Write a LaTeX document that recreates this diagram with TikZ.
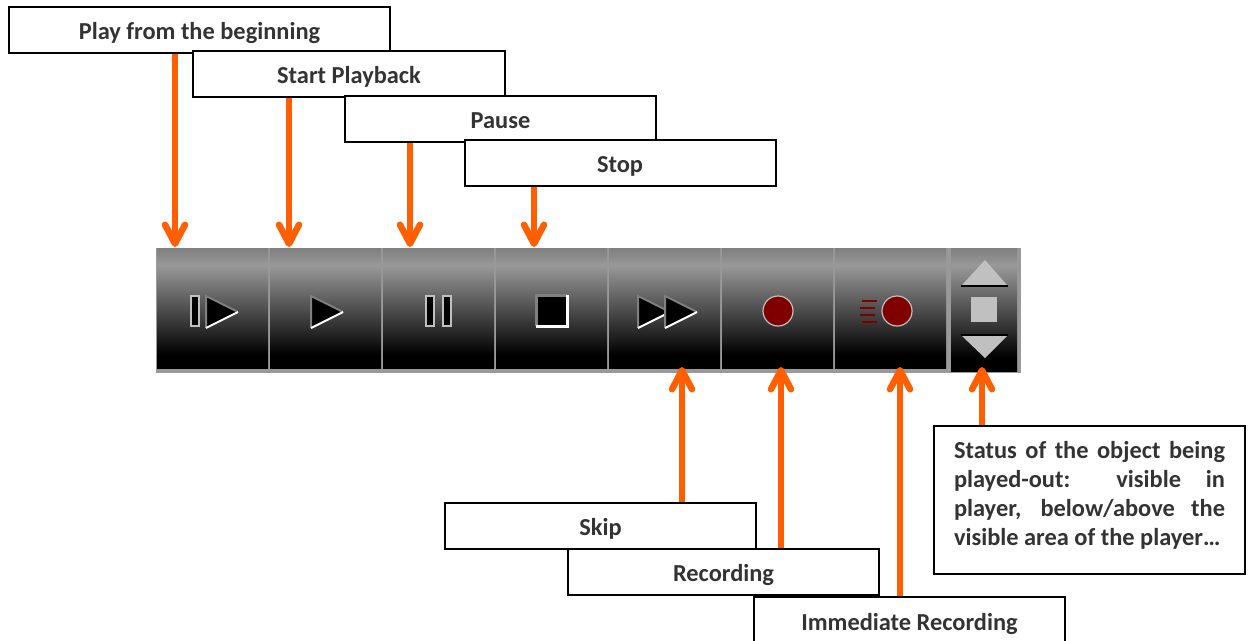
\documentclass[tikz,border=0pt]{standalone}
\usepackage{fontspec}
\setmainfont{Carlito}
\usetikzlibrary{
  positioning,
  arrows.meta
}
\definecolor{barorange}{HTML}{FF5F00}
\definecolor{recred}{HTML}{800000}
\definecolor{boxtext}{HTML}{333333}
\definecolor{iconfill}{HTML}{C0C0C0}
\pgfdeclareverticalshading{btnshade}{100bp}{
  color(0bp)=(black);
  color(30.4bp)=(black);
  color(62.9bp)=(black!48);
  color(67.9bp)=(black!40);
  color(72.5bp)=(black!47);
  color(75bp)=(black!50);
  color(100bp)=(black!50)
}
% one triangle of the play icons, #1 = left edge
\newcommand{\playtri}[1]{
  \fill (#1,296) -- (#1+32,312) -- (#1,328) -- cycle;
  \draw[gray, line width=2pt] (#1,328) -- (#1,296) -- (#1+32,312);
  \draw[white, line width=2pt] (#1,328) -- (#1+32,312);
}
\begin{document}
\begin{tikzpicture}[
  x=1pt, y=-1pt,
  node distance=2pt,
  every node/.style={font=\fontsize{24.4}{29}\selectfont\bfseries, text=boxtext},
  label/.style={draw=black, fill=white, line width=2pt, minimum width=311pt, minimum height=46pt, inner sep=0pt, text height=19pt, text depth=0pt},
  notebox/.style={draw=black, fill=white, line width=2pt, text width=271pt, minimum width=311pt, minimum height=148pt, inner xsep=20pt, inner ysep=0pt, align=justify},
  button/.style={shading=btnshade, minimum width=111pt, minimum height=120pt, inner sep=0pt, outer sep=0pt},
  arrow/.style={draw=barorange, line width=6pt, -{Straight Barb[length=19pt, width=20pt, line width=6.5pt, round]}},
  bar/.style={fill=black, draw=iconfill, line width=2.4pt},
  recline/.style={draw=recred, line width=1.8pt}
]
\useasboundingbox (0,0) rectangle (1250,640);

% Toolbar
\fill[black!40] (156,248) rectangle (1021,373);
\node[button] (btnfirst) at (212.5,308) {};
\node[button, right=of btnfirst] (btnplay) {};
\node[button, right=of btnplay] (btnpause) {};
\node[button, right=of btnpause] (btnstop) {};
\node[button, right=of btnstop] (btnskip) {};
\node[button, right=of btnskip] (btnrec) {};
\node[button, right=of btnrec] (btnimm) {};
\node[button, minimum width=66pt, minimum height=123pt] (btnstatus) at (984,309.5) {};

% Icons
\draw[bar] (191,296) rectangle (199,326);
\playtri{206}
\playtri{311}
\draw[bar] (426,296) rectangle (434,326);
\draw[bar] (443,296) rectangle (451,326);
\fill (536,295) rectangle (567,326);
\draw[gray, line width=3pt] (536,326) -- (536,295) -- (567,295);
\draw[white, line width=3pt] (536,326) -- (567,326) -- (567,295);
\playtri{638}
\playtri{665}
\draw[fill=recred, draw=iconfill, line width=1.2pt] (778,311) circle (15);
\draw[fill=recred, draw=iconfill, line width=1.2pt] (897,311) circle (15);
\draw[recline] (862,301) -- (877,301);
\draw[recline] (860,308) -- (875,308);
\draw[recline] (860,315) -- (875,315);
\draw[recline] (862,322) -- (877,322);
\fill[iconfill] (985,260) -- (1007,285) -- (962,285) -- cycle;
\draw[black, line width=1.5pt] (961,286) -- (1008,286);
\fill[iconfill] (971,297) rectangle (997,322);
\fill[iconfill] (985,358) -- (1007,336) -- (962,336) -- cycle;
\draw[black, line width=1.5pt] (961,335) -- (1008,335);

% Labels
\node[label, minimum width=381pt] (boxbegin) at (199.5,30) {Play from the beginning};
\node[label, minimum width=312pt] (boxstart) at (349,74) {Start Playback};
\node[label] (boxpause) at (500.5,119) {Pause};
\node[label] (boxstop) at (620,163) {Stop};
\node[label] (boxskip) at (600.5,526) {Skip};
\node[label] (boxrec) at (723.5,572) {Recording};
\node[label, minimum height=48pt] (boximm) at (909.5,621) {Immediate Recording};
\node[notebox] (boxstatus) at (1089.5,500) {Status of the object being\linebreak played-out: visible in\linebreak player, below/above the\linebreak visible area of the player…\par\vspace{10pt}};

% Arrow ends
\coordinate (tipbegin) at (175,247);
\coordinate (tipstart) at (289,247);
\coordinate (tippause) at (410,247);
\coordinate (tipstop) at (534,247);
\coordinate (tipskip) at (682,367);
\coordinate (tiprec) at (781,367);
\coordinate (tipimm) at (900,367);
\coordinate (tipstatus) at (982,367);

% Arrows
\draw[arrow] (boxbegin.south -| tipbegin) -- (tipbegin);
\draw[arrow] (boxstart.south -| tipstart) -- (tipstart);
\draw[arrow] (boxpause.south -| tippause) -- (tippause);
\draw[arrow] (boxstop.south -| tipstop) -- (tipstop);
\draw[arrow] (boxskip.north -| tipskip) -- (tipskip);
\draw[arrow] (boxrec.north -| tiprec) -- (tiprec);
\draw[arrow] (boximm.north -| tipimm) -- (tipimm);
\draw[arrow] (boxstatus.north -| tipstatus) -- (tipstatus);

\end{tikzpicture}
\end{document}
